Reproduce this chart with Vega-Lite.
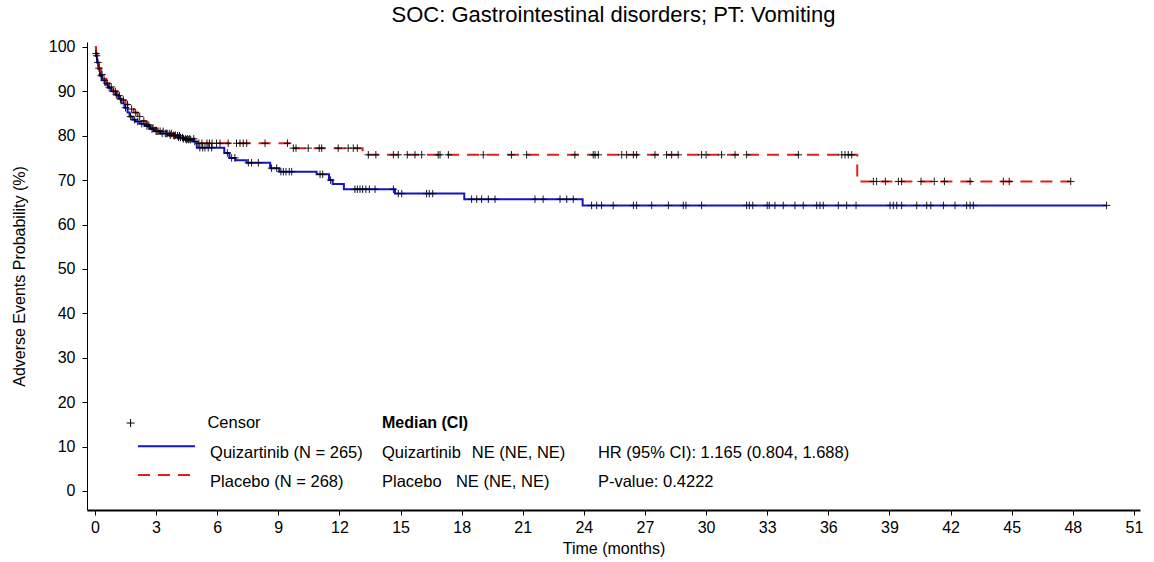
{
  "$schema": "https://vega.github.io/schema/vega-lite/v6.json",
  "width": 1053,
  "height": 468,
  "autosize": {"type": "none"},
  "padding": {"left": 87, "top": 42, "right": 14, "bottom": 52},
  "background": "white",
  "title": {"text": "SOC: Gastrointestinal disorders; PT: Vomiting", "font": "Liberation Sans", "fontSize": 22, "fontWeight": "normal", "color": "black", "anchor": "middle", "offset": 12},
  "config": {
    "view": {"stroke": null},
    "axis": {"grid": false, "domainColor": "black", "tickColor": "black", "labelColor": "black", "titleColor": "black", "labelFont": "Liberation Sans", "titleFont": "Liberation Sans", "labelFontSize": 16, "titleFontSize": 16, "titleFontWeight": "normal", "tickSize": 5}
  },
  "datasets": {
    "curve": [
      {"arm": "Quizartinib", "t": 0, "s": 100},
      {"arm": "Quizartinib", "t": 0.05, "s": 98},
      {"arm": "Quizartinib", "t": 0.1, "s": 96.5},
      {"arm": "Quizartinib", "t": 0.17, "s": 95},
      {"arm": "Quizartinib", "t": 0.25, "s": 93.5},
      {"arm": "Quizartinib", "t": 0.35, "s": 92.5},
      {"arm": "Quizartinib", "t": 0.5, "s": 91.5},
      {"arm": "Quizartinib", "t": 0.65, "s": 90.8},
      {"arm": "Quizartinib", "t": 0.8, "s": 90},
      {"arm": "Quizartinib", "t": 1.0, "s": 89.2},
      {"arm": "Quizartinib", "t": 1.15, "s": 88.3},
      {"arm": "Quizartinib", "t": 1.3, "s": 87.3},
      {"arm": "Quizartinib", "t": 1.45, "s": 86.3},
      {"arm": "Quizartinib", "t": 1.6, "s": 85.2},
      {"arm": "Quizartinib", "t": 1.7, "s": 84.3},
      {"arm": "Quizartinib", "t": 1.85, "s": 83.6},
      {"arm": "Quizartinib", "t": 2.0, "s": 83.2},
      {"arm": "Quizartinib", "t": 2.2, "s": 82.7},
      {"arm": "Quizartinib", "t": 2.45, "s": 82.2},
      {"arm": "Quizartinib", "t": 2.7, "s": 81.5},
      {"arm": "Quizartinib", "t": 2.9, "s": 81},
      {"arm": "Quizartinib", "t": 3.2, "s": 80.5},
      {"arm": "Quizartinib", "t": 3.6, "s": 80.1},
      {"arm": "Quizartinib", "t": 4.0, "s": 79.6},
      {"arm": "Quizartinib", "t": 4.4, "s": 79.1},
      {"arm": "Quizartinib", "t": 4.8, "s": 78.7},
      {"arm": "Quizartinib", "t": 5.0, "s": 77.3},
      {"arm": "Quizartinib", "t": 6.35, "s": 76.1},
      {"arm": "Quizartinib", "t": 6.6, "s": 75.0},
      {"arm": "Quizartinib", "t": 6.9, "s": 74.5},
      {"arm": "Quizartinib", "t": 7.45, "s": 73.9},
      {"arm": "Quizartinib", "t": 8.6, "s": 72.7},
      {"arm": "Quizartinib", "t": 9.05, "s": 71.9},
      {"arm": "Quizartinib", "t": 10.88, "s": 71.3},
      {"arm": "Quizartinib", "t": 11.49, "s": 70.0},
      {"arm": "Quizartinib", "t": 11.67, "s": 69.1},
      {"arm": "Quizartinib", "t": 12.22, "s": 67.95},
      {"arm": "Quizartinib", "t": 14.73, "s": 66.96},
      {"arm": "Quizartinib", "t": 18.13, "s": 65.7},
      {"arm": "Quizartinib", "t": 23.94, "s": 64.3},
      {"arm": "Quizartinib", "t": 49.66, "s": 64.3},
      {"arm": "Placebo", "t": 0, "s": 100},
      {"arm": "Placebo", "t": 0.05, "s": 98.5},
      {"arm": "Placebo", "t": 0.12, "s": 96.8},
      {"arm": "Placebo", "t": 0.2, "s": 95.2},
      {"arm": "Placebo", "t": 0.3, "s": 93.8},
      {"arm": "Placebo", "t": 0.4, "s": 92.8},
      {"arm": "Placebo", "t": 0.55, "s": 91.8},
      {"arm": "Placebo", "t": 0.7, "s": 91},
      {"arm": "Placebo", "t": 0.9, "s": 90},
      {"arm": "Placebo", "t": 1.1, "s": 89},
      {"arm": "Placebo", "t": 1.3, "s": 88},
      {"arm": "Placebo", "t": 1.5, "s": 87},
      {"arm": "Placebo", "t": 1.7, "s": 86},
      {"arm": "Placebo", "t": 1.9, "s": 85.2},
      {"arm": "Placebo", "t": 2.1, "s": 84.3},
      {"arm": "Placebo", "t": 2.3, "s": 83.3},
      {"arm": "Placebo", "t": 2.5, "s": 82.5},
      {"arm": "Placebo", "t": 2.7, "s": 81.8},
      {"arm": "Placebo", "t": 3.0, "s": 81},
      {"arm": "Placebo", "t": 3.4, "s": 80.5},
      {"arm": "Placebo", "t": 3.8, "s": 80},
      {"arm": "Placebo", "t": 4.3, "s": 79.3},
      {"arm": "Placebo", "t": 5.0, "s": 78.3},
      {"arm": "Placebo", "t": 9.67, "s": 77.2},
      {"arm": "Placebo", "t": 13.14, "s": 75.7},
      {"arm": "Placebo", "t": 37.42, "s": 69.7},
      {"arm": "Placebo", "t": 47.9, "s": 69.7}
    ],
    "censor": [
      {"arm": "Quizartinib", "t": 0.08, "s": 98},
      {"arm": "Quizartinib", "t": 0.15, "s": 96.5},
      {"arm": "Quizartinib", "t": 0.3, "s": 93.5},
      {"arm": "Quizartinib", "t": 0.45, "s": 92.5},
      {"arm": "Quizartinib", "t": 0.7, "s": 90.8},
      {"arm": "Quizartinib", "t": 0.9, "s": 90},
      {"arm": "Quizartinib", "t": 1.05, "s": 89.2},
      {"arm": "Quizartinib", "t": 1.25, "s": 88.3},
      {"arm": "Quizartinib", "t": 1.5, "s": 86.3},
      {"arm": "Quizartinib", "t": 1.75, "s": 84.3},
      {"arm": "Quizartinib", "t": 1.95, "s": 83.6},
      {"arm": "Quizartinib", "t": 2.1, "s": 83.2},
      {"arm": "Quizartinib", "t": 2.3, "s": 82.7},
      {"arm": "Quizartinib", "t": 2.55, "s": 82.2},
      {"arm": "Quizartinib", "t": 2.65, "s": 82.2},
      {"arm": "Quizartinib", "t": 2.8, "s": 81.5},
      {"arm": "Quizartinib", "t": 3.0, "s": 81},
      {"arm": "Quizartinib", "t": 3.1, "s": 81},
      {"arm": "Quizartinib", "t": 3.3, "s": 80.5},
      {"arm": "Quizartinib", "t": 3.45, "s": 80.5},
      {"arm": "Quizartinib", "t": 3.55, "s": 80.5},
      {"arm": "Quizartinib", "t": 3.7, "s": 80.1},
      {"arm": "Quizartinib", "t": 3.85, "s": 80.1},
      {"arm": "Quizartinib", "t": 3.95, "s": 80.1},
      {"arm": "Quizartinib", "t": 4.1, "s": 79.6},
      {"arm": "Quizartinib", "t": 4.2, "s": 79.6},
      {"arm": "Quizartinib", "t": 4.3, "s": 79.6},
      {"arm": "Quizartinib", "t": 4.5, "s": 79.1},
      {"arm": "Quizartinib", "t": 4.6, "s": 79.1},
      {"arm": "Quizartinib", "t": 4.7, "s": 79.1},
      {"arm": "Quizartinib", "t": 4.9, "s": 78.7},
      {"arm": "Quizartinib", "t": 5.15, "s": 77.3},
      {"arm": "Quizartinib", "t": 5.29, "s": 77.3},
      {"arm": "Quizartinib", "t": 5.4, "s": 77.3},
      {"arm": "Quizartinib", "t": 5.56, "s": 77.3},
      {"arm": "Quizartinib", "t": 5.73, "s": 77.3},
      {"arm": "Quizartinib", "t": 6.5, "s": 76.1},
      {"arm": "Quizartinib", "t": 6.71, "s": 75.0},
      {"arm": "Quizartinib", "t": 6.87, "s": 75.0},
      {"arm": "Quizartinib", "t": 7.53, "s": 73.9},
      {"arm": "Quizartinib", "t": 7.69, "s": 73.9},
      {"arm": "Quizartinib", "t": 8.02, "s": 73.9},
      {"arm": "Quizartinib", "t": 8.67, "s": 72.7},
      {"arm": "Quizartinib", "t": 8.92, "s": 72.7},
      {"arm": "Quizartinib", "t": 9.13, "s": 71.9},
      {"arm": "Quizartinib", "t": 9.25, "s": 71.9},
      {"arm": "Quizartinib", "t": 9.38, "s": 71.9},
      {"arm": "Quizartinib", "t": 9.54, "s": 71.9},
      {"arm": "Quizartinib", "t": 9.66, "s": 71.9},
      {"arm": "Quizartinib", "t": 11.05, "s": 71.3},
      {"arm": "Quizartinib", "t": 11.18, "s": 71.3},
      {"arm": "Quizartinib", "t": 11.57, "s": 70.0},
      {"arm": "Quizartinib", "t": 12.76, "s": 67.95},
      {"arm": "Quizartinib", "t": 12.88, "s": 67.95},
      {"arm": "Quizartinib", "t": 13.01, "s": 67.95},
      {"arm": "Quizartinib", "t": 13.14, "s": 67.95},
      {"arm": "Quizartinib", "t": 13.3, "s": 67.95},
      {"arm": "Quizartinib", "t": 13.47, "s": 67.95},
      {"arm": "Quizartinib", "t": 13.75, "s": 67.95},
      {"arm": "Quizartinib", "t": 14.65, "s": 67.95},
      {"arm": "Quizartinib", "t": 14.89, "s": 66.96},
      {"arm": "Quizartinib", "t": 15.06, "s": 66.96},
      {"arm": "Quizartinib", "t": 16.28, "s": 66.96},
      {"arm": "Quizartinib", "t": 16.41, "s": 66.96},
      {"arm": "Quizartinib", "t": 16.58, "s": 66.96},
      {"arm": "Quizartinib", "t": 18.49, "s": 65.7},
      {"arm": "Quizartinib", "t": 18.74, "s": 65.7},
      {"arm": "Quizartinib", "t": 18.98, "s": 65.7},
      {"arm": "Quizartinib", "t": 19.31, "s": 65.7},
      {"arm": "Quizartinib", "t": 19.64, "s": 65.7},
      {"arm": "Quizartinib", "t": 21.6, "s": 65.7},
      {"arm": "Quizartinib", "t": 22.0, "s": 65.7},
      {"arm": "Quizartinib", "t": 22.83, "s": 65.7},
      {"arm": "Quizartinib", "t": 23.16, "s": 65.7},
      {"arm": "Quizartinib", "t": 23.48, "s": 65.7},
      {"arm": "Quizartinib", "t": 24.38, "s": 64.3},
      {"arm": "Quizartinib", "t": 24.63, "s": 64.3},
      {"arm": "Quizartinib", "t": 24.87, "s": 64.3},
      {"arm": "Quizartinib", "t": 25.44, "s": 64.3},
      {"arm": "Quizartinib", "t": 26.43, "s": 64.3},
      {"arm": "Quizartinib", "t": 26.59, "s": 64.3},
      {"arm": "Quizartinib", "t": 27.33, "s": 64.3},
      {"arm": "Quizartinib", "t": 28.15, "s": 64.3},
      {"arm": "Quizartinib", "t": 28.88, "s": 64.3},
      {"arm": "Quizartinib", "t": 29.01, "s": 64.3},
      {"arm": "Quizartinib", "t": 29.78, "s": 64.3},
      {"arm": "Quizartinib", "t": 31.99, "s": 64.3},
      {"arm": "Quizartinib", "t": 32.12, "s": 64.3},
      {"arm": "Quizartinib", "t": 32.29, "s": 64.3},
      {"arm": "Quizartinib", "t": 33.0, "s": 64.3},
      {"arm": "Quizartinib", "t": 33.1, "s": 64.3},
      {"arm": "Quizartinib", "t": 33.38, "s": 64.3},
      {"arm": "Quizartinib", "t": 33.79, "s": 64.3},
      {"arm": "Quizartinib", "t": 34.36, "s": 64.3},
      {"arm": "Quizartinib", "t": 34.77, "s": 64.3},
      {"arm": "Quizartinib", "t": 35.43, "s": 64.3},
      {"arm": "Quizartinib", "t": 35.59, "s": 64.3},
      {"arm": "Quizartinib", "t": 35.75, "s": 64.3},
      {"arm": "Quizartinib", "t": 36.49, "s": 64.3},
      {"arm": "Quizartinib", "t": 36.9, "s": 64.3},
      {"arm": "Quizartinib", "t": 37.36, "s": 64.3},
      {"arm": "Quizartinib", "t": 39.03, "s": 64.3},
      {"arm": "Quizartinib", "t": 39.19, "s": 64.3},
      {"arm": "Quizartinib", "t": 39.36, "s": 64.3},
      {"arm": "Quizartinib", "t": 39.6, "s": 64.3},
      {"arm": "Quizartinib", "t": 40.34, "s": 64.3},
      {"arm": "Quizartinib", "t": 40.83, "s": 64.3},
      {"arm": "Quizartinib", "t": 41.03, "s": 64.3},
      {"arm": "Quizartinib", "t": 41.65, "s": 64.3},
      {"arm": "Quizartinib", "t": 42.22, "s": 64.3},
      {"arm": "Quizartinib", "t": 42.79, "s": 64.3},
      {"arm": "Quizartinib", "t": 42.96, "s": 64.3},
      {"arm": "Quizartinib", "t": 43.12, "s": 64.3},
      {"arm": "Quizartinib", "t": 49.66, "s": 64.3},
      {"arm": "Placebo", "t": 0.05, "s": 98.5},
      {"arm": "Placebo", "t": 0.2, "s": 95.2},
      {"arm": "Placebo", "t": 0.35, "s": 93.8},
      {"arm": "Placebo", "t": 0.6, "s": 91.8},
      {"arm": "Placebo", "t": 0.8, "s": 91},
      {"arm": "Placebo", "t": 1.0, "s": 90},
      {"arm": "Placebo", "t": 1.2, "s": 89},
      {"arm": "Placebo", "t": 1.4, "s": 88},
      {"arm": "Placebo", "t": 1.6, "s": 87},
      {"arm": "Placebo", "t": 1.8, "s": 86},
      {"arm": "Placebo", "t": 2.0, "s": 85.2},
      {"arm": "Placebo", "t": 2.2, "s": 84.3},
      {"arm": "Placebo", "t": 2.4, "s": 83.3},
      {"arm": "Placebo", "t": 2.6, "s": 82.5},
      {"arm": "Placebo", "t": 2.85, "s": 81.8},
      {"arm": "Placebo", "t": 3.05, "s": 81},
      {"arm": "Placebo", "t": 3.2, "s": 81},
      {"arm": "Placebo", "t": 3.35, "s": 81},
      {"arm": "Placebo", "t": 3.5, "s": 80.5},
      {"arm": "Placebo", "t": 3.65, "s": 80.5},
      {"arm": "Placebo", "t": 3.75, "s": 80.5},
      {"arm": "Placebo", "t": 3.9, "s": 80},
      {"arm": "Placebo", "t": 4.05, "s": 80},
      {"arm": "Placebo", "t": 4.15, "s": 80},
      {"arm": "Placebo", "t": 4.35, "s": 79.3},
      {"arm": "Placebo", "t": 4.45, "s": 79.3},
      {"arm": "Placebo", "t": 4.55, "s": 79.3},
      {"arm": "Placebo", "t": 4.65, "s": 79.3},
      {"arm": "Placebo", "t": 4.85, "s": 79.3},
      {"arm": "Placebo", "t": 5.1, "s": 78.3},
      {"arm": "Placebo", "t": 5.25, "s": 78.3},
      {"arm": "Placebo", "t": 5.5, "s": 78.3},
      {"arm": "Placebo", "t": 5.62, "s": 78.3},
      {"arm": "Placebo", "t": 5.75, "s": 78.3},
      {"arm": "Placebo", "t": 5.97, "s": 78.3},
      {"arm": "Placebo", "t": 6.14, "s": 78.3},
      {"arm": "Placebo", "t": 6.54, "s": 78.3},
      {"arm": "Placebo", "t": 6.95, "s": 78.3},
      {"arm": "Placebo", "t": 7.12, "s": 78.3},
      {"arm": "Placebo", "t": 7.28, "s": 78.3},
      {"arm": "Placebo", "t": 7.45, "s": 78.3},
      {"arm": "Placebo", "t": 8.35, "s": 78.3},
      {"arm": "Placebo", "t": 9.45, "s": 78.3},
      {"arm": "Placebo", "t": 9.74, "s": 77.2},
      {"arm": "Placebo", "t": 9.87, "s": 77.2},
      {"arm": "Placebo", "t": 10.47, "s": 77.2},
      {"arm": "Placebo", "t": 11.01, "s": 77.2},
      {"arm": "Placebo", "t": 11.13, "s": 77.2},
      {"arm": "Placebo", "t": 11.94, "s": 77.2},
      {"arm": "Placebo", "t": 12.43, "s": 77.2},
      {"arm": "Placebo", "t": 12.68, "s": 77.2},
      {"arm": "Placebo", "t": 12.88, "s": 77.2},
      {"arm": "Placebo", "t": 13.42, "s": 75.7},
      {"arm": "Placebo", "t": 13.79, "s": 75.7},
      {"arm": "Placebo", "t": 14.65, "s": 75.7},
      {"arm": "Placebo", "t": 14.89, "s": 75.7},
      {"arm": "Placebo", "t": 15.33, "s": 75.7},
      {"arm": "Placebo", "t": 15.71, "s": 75.7},
      {"arm": "Placebo", "t": 16.04, "s": 75.7},
      {"arm": "Placebo", "t": 16.85, "s": 75.7},
      {"arm": "Placebo", "t": 16.94, "s": 75.7},
      {"arm": "Placebo", "t": 17.35, "s": 75.7},
      {"arm": "Placebo", "t": 19.06, "s": 75.7},
      {"arm": "Placebo", "t": 20.45, "s": 75.7},
      {"arm": "Placebo", "t": 21.19, "s": 75.7},
      {"arm": "Placebo", "t": 23.56, "s": 75.7},
      {"arm": "Placebo", "t": 24.46, "s": 75.7},
      {"arm": "Placebo", "t": 24.55, "s": 75.7},
      {"arm": "Placebo", "t": 24.71, "s": 75.7},
      {"arm": "Placebo", "t": 25.86, "s": 75.7},
      {"arm": "Placebo", "t": 26.1, "s": 75.7},
      {"arm": "Placebo", "t": 26.43, "s": 75.7},
      {"arm": "Placebo", "t": 26.59, "s": 75.7},
      {"arm": "Placebo", "t": 27.49, "s": 75.7},
      {"arm": "Placebo", "t": 28.06, "s": 75.7},
      {"arm": "Placebo", "t": 28.31, "s": 75.7},
      {"arm": "Placebo", "t": 28.63, "s": 75.7},
      {"arm": "Placebo", "t": 29.78, "s": 75.7},
      {"arm": "Placebo", "t": 30.0, "s": 75.7},
      {"arm": "Placebo", "t": 30.76, "s": 75.7},
      {"arm": "Placebo", "t": 31.42, "s": 75.7},
      {"arm": "Placebo", "t": 31.99, "s": 75.7},
      {"arm": "Placebo", "t": 34.53, "s": 75.7},
      {"arm": "Placebo", "t": 36.66, "s": 75.7},
      {"arm": "Placebo", "t": 36.82, "s": 75.7},
      {"arm": "Placebo", "t": 36.98, "s": 75.7},
      {"arm": "Placebo", "t": 37.15, "s": 75.7},
      {"arm": "Placebo", "t": 38.21, "s": 69.7},
      {"arm": "Placebo", "t": 38.37, "s": 69.7},
      {"arm": "Placebo", "t": 38.8, "s": 69.7},
      {"arm": "Placebo", "t": 39.44, "s": 69.7},
      {"arm": "Placebo", "t": 39.6, "s": 69.7},
      {"arm": "Placebo", "t": 40.55, "s": 69.7},
      {"arm": "Placebo", "t": 41.2, "s": 69.7},
      {"arm": "Placebo", "t": 41.7, "s": 69.7},
      {"arm": "Placebo", "t": 42.96, "s": 69.7},
      {"arm": "Placebo", "t": 44.59, "s": 69.7},
      {"arm": "Placebo", "t": 44.88, "s": 69.7},
      {"arm": "Placebo", "t": 47.9, "s": 69.7}
    ],
    "legendLines": [
      {"arm": "Quizartinib", "t": 2.11, "t2": 4.91, "v": 10.1},
      {"arm": "Placebo", "t": 2.11, "t2": 4.91, "v": 3.6}
    ],
    "legendSymbol": [
      {"t": 1.75, "v": 15.3}
    ],
    "legendHeader": [
      {"label": "Median (CI)", "t": 14.09, "v": 15.3}
    ],
    "legendText": [
      {"label": "Censor", "t": 5.52, "v": 15.3},
      {"label": "Quizartinib (N = 265)", "t": 5.65, "v": 8.6},
      {"label": "Placebo (N = 268)", "t": 5.65, "v": 2.0},
      {"label": "Quizartinib", "t": 14.09, "v": 8.6},
      {"label": "NE (NE, NE)", "t": 18.5, "v": 8.6},
      {"label": "Placebo", "t": 14.09, "v": 2.0},
      {"label": "NE (NE, NE)", "t": 17.72, "v": 2.0},
      {"label": "HR (95% CI): 1.165 (0.804, 1.688)", "t": 24.69, "v": 8.6},
      {"label": "P-value: 0.4222", "t": 24.69, "v": 2.0}
    ]
  },
  "encoding": {
    "x": {"field": "t", "type": "quantitative", "scale": {"domain": [-0.39, 51.3], "nice": false, "zero": false},
      "axis": {"values": [0,3,6,9,12,15,18,21,24,27,30,33,36,39,42,45,48,51], "title": "Time (months)", "domainWidth": 2, "labelPadding": 4, "titlePadding": 5}},
    "y": {"field": "s", "type": "quantitative", "scale": {"domain": [-4.28, 101.1], "nice": false, "zero": false},
      "axis": {"values": [0,10,20,30,40,50,60,70,80,90,100], "title": "Adverse Events Probability (%)", "labelPadding": 7, "titlePadding": 21}}
  },
  "layer": [
    {
      "data": {"name": "curve"},
      "mark": {"type": "line", "interpolate": "step-after", "strokeWidth": 2},
      "encoding": {
        "color": {"field": "arm", "type": "nominal", "scale": {"domain": ["Quizartinib", "Placebo"], "range": ["#1414C8", "#E41E1E"]}, "legend": null},
        "strokeDash": {"field": "arm", "type": "nominal", "scale": {"domain": ["Quizartinib", "Placebo"], "range": [[1, 0], [12, 8]]}, "legend": null}
      }
    },
    {
      "data": {"name": "censor"},
      "mark": {"type": "point", "shape": "M-1,0H1M0,-1V1", "filled": false, "color": "black", "stroke": "black", "strokeWidth": 0.9, "size": 56, "opacity": 1}
    },
    {
      "data": {"name": "legendLines"},
      "mark": {"type": "rule", "strokeWidth": 2},
      "encoding": {
        "x": {"field": "t", "type": "quantitative"},
        "x2": {"field": "t2"},
        "y": {"field": "v", "type": "quantitative"},
        "color": {"field": "arm", "type": "nominal", "scale": {"domain": ["Quizartinib", "Placebo"], "range": ["#1414C8", "#E41E1E"]}, "legend": null},
        "strokeDash": {"field": "arm", "type": "nominal", "scale": {"domain": ["Quizartinib", "Placebo"], "range": [[1, 0], [12, 8]]}, "legend": null}
      }
    },
    {
      "data": {"name": "legendSymbol"},
      "mark": {"type": "point", "shape": "M-1,0H1M0,-1V1", "filled": false, "color": "black", "stroke": "black", "strokeWidth": 1, "size": 64, "opacity": 1},
      "encoding": {
        "y": {"field": "v", "type": "quantitative"}
      }
    },
    {
      "data": {"name": "legendText"},
      "mark": {"type": "text", "align": "left", "baseline": "middle", "font": "Liberation Sans", "fontSize": 16.5, "color": "black"},
      "encoding": {
        "y": {"field": "v", "type": "quantitative"},
        "text": {"field": "label"}
      }
    },
    {
      "data": {"name": "legendHeader"},
      "mark": {"type": "text", "align": "left", "baseline": "middle", "font": "Liberation Sans", "fontSize": 16, "fontWeight": "bold", "color": "black"},
      "encoding": {
        "y": {"field": "v", "type": "quantitative"},
        "text": {"field": "label"}
      }
    }
  ]
}
